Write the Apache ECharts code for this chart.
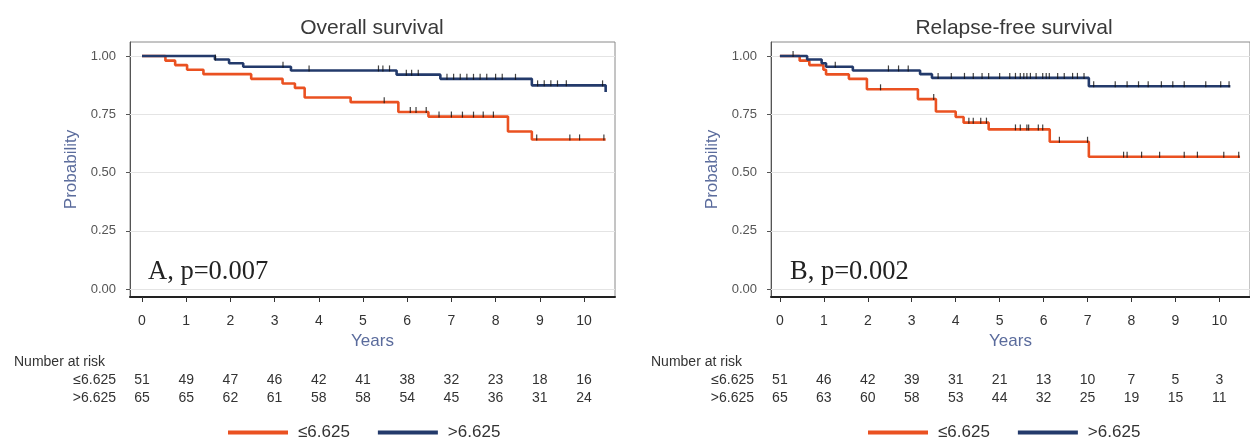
<!DOCTYPE html>
<html><head><meta charset="utf-8">
<script src="https://cdn.jsdelivr.net/npm/echarts@6/dist/echarts.min.js"></script>
<style>html,body{margin:0;padding:0;background:#fff}#c{width:1250px;height:439px}</style>
</head><body><div id="c"></div>
<script>
// ---------- data ----------
const years = [0,1,2,3,4,5,6,7,8,9,10];
const probTicks = [0, 0.25, 0.5, 0.75, 1];
const groups = ['≤6.625', '>6.625'];
const panelTitles = ['Overall survival', 'Relapse-free survival'];
const panelNotes = ['A, p=0.007', 'B, p=0.002'];

// Overall survival (Kaplan-Meier steps: time, survival after the event)
const osLowTime  = [0, 0.53, 0.75, 1.02, 1.39, 2.47, 3.18, 3.46, 3.68, 4.72, 5.80, 6.48, 8.28, 8.82, 10.49];
const osLowSurv  = [1, 0.980, 0.961, 0.941, 0.922, 0.902, 0.882, 0.863, 0.822, 0.802, 0.760, 0.740, 0.676, 0.642, 0.642];
const osHighTime = [0, 1.65, 1.97, 2.29, 3.37, 5.76, 6.75, 8.82, 10.49];
const osHighSurv = [1, 0.985, 0.969, 0.954, 0.938, 0.920, 0.902, 0.874, 0.845];
const osLowCens  = [5.48, 6.07, 6.2, 6.43, 6.72, 7.0, 7.25, 7.5, 7.72, 7.95, 8.93, 9.68, 9.9, 10.45];
const osHighCens = [1.66, 3.19, 3.78, 5.35, 5.45, 5.6, 5.98, 6.1, 6.25, 6.9, 7.05, 7.2, 7.35, 7.5, 7.65, 7.8, 8.0, 8.15, 8.45, 8.95, 9.1, 9.25, 9.4, 9.6, 10.42];
const osRiskLow  = [51, 49, 47, 46, 42, 41, 38, 32, 23, 18, 16];
const osRiskHigh = [65, 65, 62, 61, 58, 58, 54, 45, 36, 31, 24];

// Relapse-free survival
const rfsLowTime  = [0, 0.45, 0.67, 0.99, 1.05, 1.57, 1.98, 3.14, 3.55, 4.0, 4.18, 4.75, 6.14, 7.03, 10.47];
const rfsLowSurv  = [1, 0.980, 0.961, 0.941, 0.921, 0.902, 0.857, 0.815, 0.762, 0.738, 0.714, 0.685, 0.632, 0.568, 0.568];
const rfsHighTime = [0, 0.62, 0.95, 1.05, 1.66, 3.19, 3.46, 7.03, 10.25];
const rfsHighSurv = [1, 0.985, 0.969, 0.954, 0.938, 0.922, 0.906, 0.870, 0.870];
const rfsLowCens  = [2.29, 3.5, 4.3, 4.4, 4.57, 4.7, 5.36, 5.47, 5.62, 5.66, 5.88, 5.98, 6.36, 7.0, 7.82, 7.9, 8.23, 8.64, 9.2, 9.5, 10.1, 10.44];
const rfsHighCens = [0.3, 1.26, 2.47, 2.7, 2.92, 3.6, 3.9, 4.2, 4.4, 4.6, 4.75, 5.0, 5.23, 5.36, 5.47, 5.55, 5.62, 5.7, 5.83, 5.98, 6.06, 6.13, 6.32, 6.47, 6.66, 6.77, 6.92, 7.14, 7.63, 7.9, 8.16, 8.38, 8.68, 8.94, 9.2, 9.69, 10.03, 10.22];
const rfsRiskLow  = [51, 46, 42, 39, 31, 21, 13, 10, 7, 5, 3];
const rfsRiskHigh = [65, 63, 60, 58, 53, 44, 32, 25, 19, 15, 11];

// ---------- styling ----------
const COL_LOW = '#ea5121', COL_HIGH = '#233a6b';
const SANS = '"Liberation Sans", Arial, sans-serif';
const AXNAME = '#5a6b9c';

function stepAt(times, surv, t) {
  let v = surv[0];
  for (let i = 0; i < times.length; i++) { if (times[i] <= t) v = surv[i]; }
  return v;
}

const panels = [
  { left: 130, t0px: 142, ppy: 44.2, width: 485, lowT: osLowTime, lowS: osLowSurv, highT: osHighTime, highS: osHighSurv,
    lowC: osLowCens, highC: osHighCens, riskLow: osRiskLow, riskHigh: osRiskHigh, rowRight: 116, nar: 14, title: 372, note: 148, leg: 223 },
  { left: 771, t0px: 780, ppy: 44.5, width: 485, lowT: rfsLowTime, lowS: rfsLowSurv, highT: rfsHighTime, highS: rfsHighSurv,
    lowC: rfsLowCens, highC: rfsHighCens, riskLow: rfsRiskLow, riskHigh: rfsRiskHigh, rowRight: 754, nar: 651, title: 1014, note: 790, leg: 863 }
];
const GTOP = 42, GH = 255, YMIN = -0.034, YMAX = 1.06;
const ROW1 = 380, ROW2 = 398;

const grid = [], xAxis = [], yAxis = [], series = [], legend = [], graphic = [];
panels.forEach((p, g) => {
  const xmin = (p.left - p.t0px) / p.ppy;
  const xmax = xmin + p.width / p.ppy;
  const gBottom = GTOP + GH;
  grid.push({ left: p.left, top: GTOP, width: p.width, height: GH, show: true, borderColor: '#8a8a8a', borderWidth: 1, containLabel: false });
  const base = g * 3;
  xAxis.push({
    gridIndex: g, type: 'value', min: xmin, max: xmax, position: 'bottom',
    axisLine: { onZero: false, lineStyle: { color: '#222', width: 2 } },
    axisTick: { show: true, customValues: years, length: 5, lineStyle: { color: '#333' } },
    axisLabel: { customValues: years, margin: 17, fontSize: 14, color: '#333', fontFamily: SANS },
    splitLine: { show: false },
    name: 'Years', nameLocation: 'middle', nameGap: 30,
    nameTextStyle: { color: AXNAME, fontSize: 17, fontFamily: SANS }
  });
  [[p.riskLow, ROW1], [p.riskHigh, ROW2]].forEach(([risk, rowY]) => {
    xAxis.push({
      gridIndex: g, type: 'value', min: xmin, max: xmax, position: 'bottom', offset: rowY - gBottom,
      axisLine: { show: false, onZero: false }, axisTick: { show: false }, splitLine: { show: false },
      axisLabel: { customValues: years, margin: 0, verticalAlign: 'middle', fontSize: 14, color: '#333', fontFamily: SANS,
        formatter: v => { const i = years.indexOf(Math.round(v)); return i >= 0 ? String(risk[i]) : ''; } }
    });
  });
  yAxis.push({
    gridIndex: g, type: 'value', min: YMIN, max: YMAX,
    axisLine: { show: true, onZero: false, lineStyle: { color: '#555', width: 1 } },
    axisTick: { show: true, customValues: probTicks, length: 4, lineStyle: { color: '#555' } },
    axisLabel: { customValues: probTicks, formatter: v => v.toFixed(2), margin: 14, fontSize: 13, color: '#555', fontFamily: SANS },
    splitLine: { show: false },
    name: 'Probability', nameLocation: 'middle', nameGap: 50, nameRotate: 90,
    nameTextStyle: { color: AXNAME, fontSize: 17, fontFamily: SANS }
  });
  const mk = (name, times, surv, color, withGrid) => {
    const s = {
      name, type: 'line', step: 'end', xAxisIndex: base, yAxisIndex: g, showSymbol: false, symbol: 'none',
      lineStyle: { color, width: 2.6 }, itemStyle: { color }, z: 3, animation: false,
      data: times.map((t, i) => [t, surv[i]])
    };
    if (withGrid) {
      s.markLine = { silent: true, symbol: 'none', label: { show: false }, animation: false, z: 1,
        lineStyle: { color: '#e4e4e4', width: 1, type: 'solid' },
        data: probTicks.map(v => ({ yAxis: v })) };
    }
    return s;
  };
  series.push(mk(groups[0], p.lowT, p.lowS, COL_LOW, true));
  series.push(mk(groups[1], p.highT, p.highS, COL_HIGH, false));
  [[p.lowC, p.lowT, p.lowS], [p.highC, p.highT, p.highS]].forEach(([c, t, s]) => {
    series.push({ type: 'scatter', xAxisIndex: base, yAxisIndex: g, symbol: 'rect', symbolSize: [1.2, 6], symbolOffset: [0, -2],
      itemStyle: { color: '#111' }, z: 4, animation: false, silent: true,
      data: c.map(x => [x, stepAt(t, s, x)]) });
  });
  legend.push({
    left: p.leg, top: 419, itemWidth: 60, itemHeight: 4, itemGap: 28, icon: 'rect',
    textStyle: { fontSize: 17, color: '#333', fontFamily: SANS, padding: [0, 0, 0, 5] },
    data: groups, selectedMode: false
  });
  graphic.push({ type: 'text', x: p.title, y: 28,
    style: { text: panelTitles[g], align: 'center', verticalAlign: 'middle', fontSize: 21, fill: '#3a3a3a', fontFamily: SANS } });
  graphic.push({ type: 'text', x: p.note, y: 272,
    style: { text: panelNotes[g], align: 'left', verticalAlign: 'middle', fontSize: 26.5, fill: '#222', fontFamily: '"Liberation Serif", "Times New Roman", serif' } });
  graphic.push({ type: 'text', x: p.nar, y: 362,
    style: { text: 'Number at risk', align: 'left', verticalAlign: 'middle', fontSize: 14, fill: '#333', fontFamily: SANS } });
  graphic.push({ type: 'text', x: p.rowRight, y: ROW1,
    style: { text: groups[0], align: 'right', verticalAlign: 'middle', fontSize: 14, fill: '#333', fontFamily: SANS } });
  graphic.push({ type: 'text', x: p.rowRight, y: ROW2,
    style: { text: groups[1], align: 'right', verticalAlign: 'middle', fontSize: 14, fill: '#333', fontFamily: SANS } });
});

const chart = echarts.init(document.getElementById('c'), null, { renderer: 'canvas' });
chart.setOption({ animation: false, grid, xAxis, yAxis, series, legend, graphic });
</script>
</body></html>
